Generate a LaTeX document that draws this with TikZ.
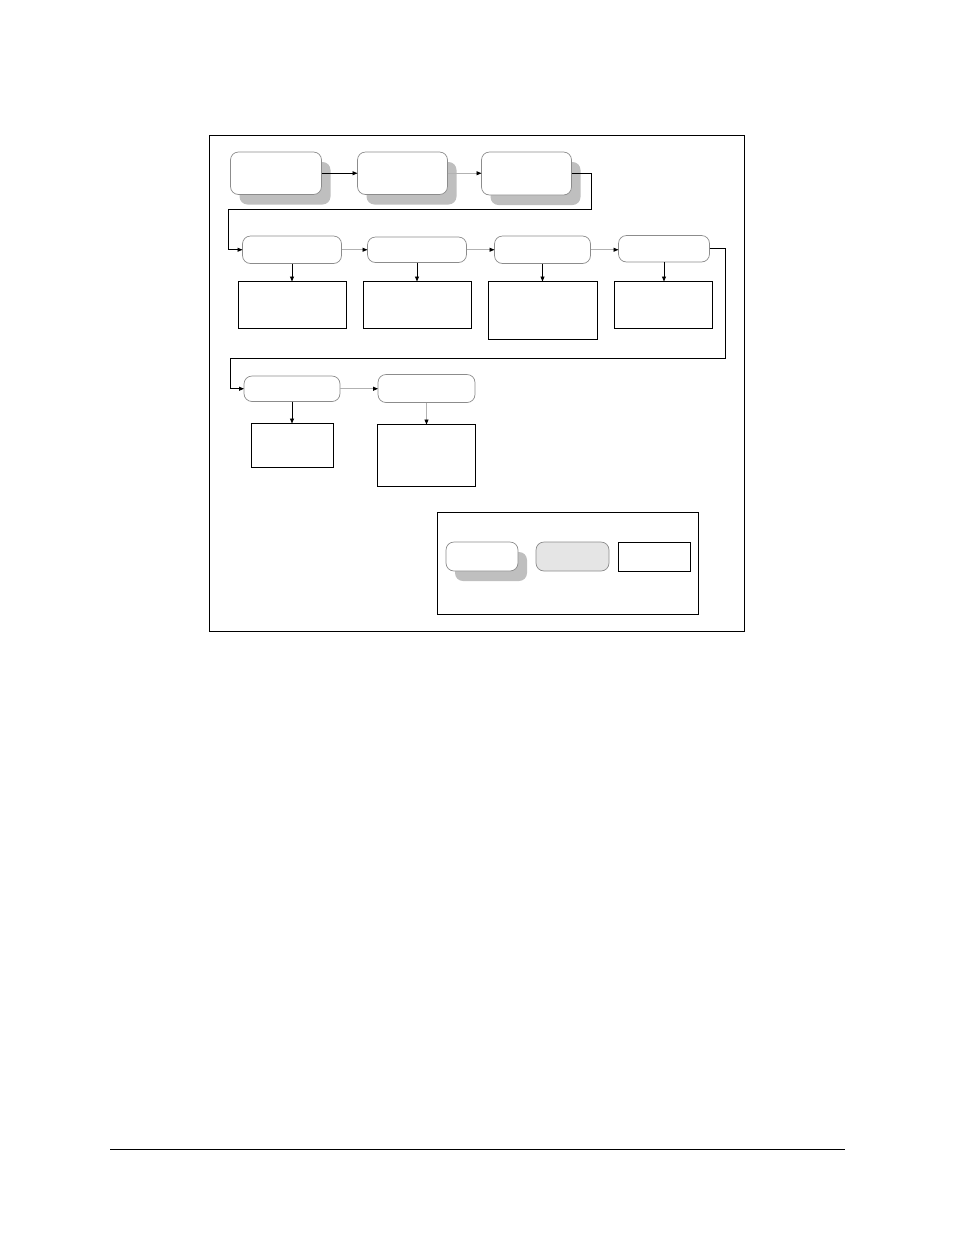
\documentclass[tikz,border=0pt]{standalone}
\usetikzlibrary{arrows.meta,shadows}
\begin{document}
\begin{tikzpicture}[x=1pt,y=-1pt,
  rbox/.style={draw=black!45,line width=0.7pt,fill=white,rounded corners=8pt,inner sep=0pt,outer sep=0pt,anchor=north west},
  sbox/.style={rbox,drop shadow={shadow xshift=9pt,shadow yshift=-10pt,fill=black!25,opacity=1}},
  gbox/.style={rbox,fill=black!10},
  pbox/.style={draw=black,line width=1pt,fill=white,inner sep=0pt,outer sep=0pt,anchor=north west},
  arr/.style={line width=0.9pt,draw=black,-{Triangle[length=5pt,width=4pt]}},
  garr/.style={line width=0.9pt,draw=black!30,-{Triangle[length=5pt,width=4pt,fill=black,color=black]}},
]
\useasboundingbox (0,0) rectangle (954,1235);
% outer frame
\draw[line width=1pt] (209.5,135.5) rectangle (744,631);
% row 1
\node[sbox,minimum width=91pt,minimum height=42.5pt] (B1) at (230.5,152) {};
\node[sbox,minimum width=90pt,minimum height=42.5pt] (B2) at (357.5,152) {};
\node[sbox,minimum width=90pt,minimum height=43pt] (B3) at (481.5,152) {};
% row 2
\node[rbox,minimum width=99pt,minimum height=27.5pt] (B4) at (242.5,236) {};
\node[rbox,minimum width=99pt,minimum height=25.5pt] (B5) at (367.5,237) {};
\node[rbox,minimum width=96pt,minimum height=27.5pt] (B6) at (494.5,236) {};
\node[rbox,minimum width=91pt,minimum height=26.5pt] (B7) at (618.5,235.5) {};
\node[pbox,minimum width=108pt,minimum height=47pt] (R4) at (238.5,281.5) {};
\node[pbox,minimum width=108pt,minimum height=47pt] (R5) at (363.5,281.5) {};
\node[pbox,minimum width=109pt,minimum height=58pt] (R6) at (488.5,281.5) {};
\node[pbox,minimum width=98pt,minimum height=46.5pt] (R7) at (614.5,281.5) {};
% row 3
\node[rbox,minimum width=96pt,minimum height=25.5pt] (B8) at (244,376) {};
\node[rbox,minimum width=97pt,minimum height=28pt] (B9) at (378,374.5) {};
\node[pbox,minimum width=82pt,minimum height=44pt] (R8) at (251.5,423.5) {};
\node[pbox,minimum width=98pt,minimum height=62pt] (R9) at (377.5,424.5) {};
% legend
\draw[line width=1pt] (437,512.5) rectangle (698.5,614);
\node[sbox,minimum width=72pt,minimum height=29pt] (L1) at (446,542) {};
\node[gbox,minimum width=73pt,minimum height=29pt] (L2) at (536,542) {};
\node[pbox,minimum width=72pt,minimum height=29pt] (L3) at (618,542.5) {};
% connectors row 1
\draw[arr] (B1.east) -- (B1.east -| B2.west);
\draw[garr] (B2.east) -- (B2.east -| B3.west);
\coordinate (k1) at (591.5,209);
\coordinate (k2) at (228.5,209);
\draw[arr] (B3.east) -| (k1) -- (k2) |- (B4.west);
% connectors row 2
\draw[garr] (B4.east) -- (B4.east -| B5.west);
\draw[garr] (B5.east) -- (B5.east -| B6.west);
\draw[garr] (B6.east) -- (B6.east -| B7.west);
\draw[arr] (B4.south) -- (B4.south |- R4.north);
\draw[arr] (B5.south) -- (B5.south |- R5.north);
\draw[arr] (B6.south) -- (B6.south |- R6.north);
\draw[arr] (B7.south) -- (B7.south |- R7.north);
\coordinate (k3) at (725.5,358.5);
\coordinate (k4) at (230,358.5);
\draw[arr] (B7.east) -| (k3) -- (k4) |- (B8.west);
% connectors row 3
\draw[garr] (B8.east) -- (B8.east -| B9.west);
\draw[arr] (B8.south) -- (B8.south |- R8.north);
\draw[garr] (B9.south) -- (B9.south |- R9.north);
% footer rule
\coordinate (f1) at (110,1149.5);
\coordinate (f2) at (845,1149.5);
\draw[line width=1pt] (f1) -- (f2);
\end{tikzpicture}
\end{document}
